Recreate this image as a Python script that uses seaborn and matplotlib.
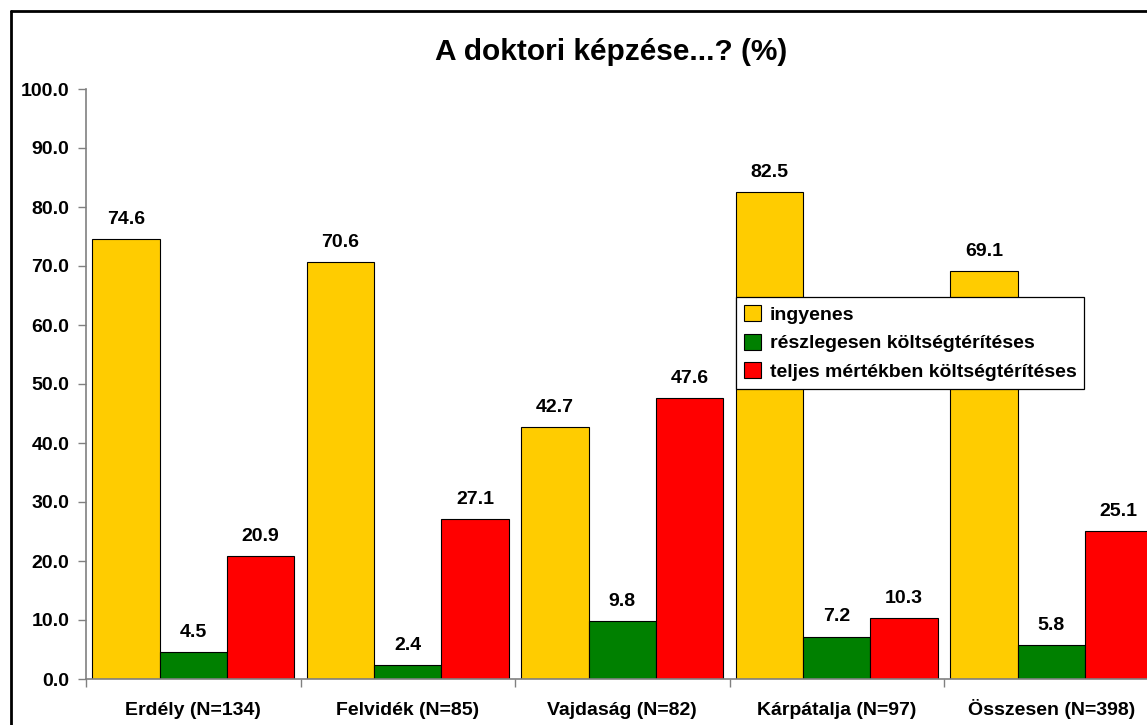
import matplotlib
matplotlib.use("Agg")
import matplotlib.pyplot as plt
import seaborn as sns
import pandas as pd
from matplotlib.lines import Line2D

regions = ["Erdély (N=134)", "Felvidék (N=85)", "Vajdaság (N=82)",
           "Kárpátalja (N=97)", "Összesen (N=398)"]
series = ["ingyenes", "részlegesen költségtérítéses",
          "teljes mértékben költségtérítéses"]
ingyenes = [74.6, 70.6, 42.7, 82.5, 69.1]
reszleges = [4.5, 2.4, 9.8, 7.2, 5.8]
teljes = [20.9, 27.1, 47.6, 10.3, 25.1]
colors = ["#FFCC00", "#008000", "#FF0000"]

df = pd.DataFrame({
    "region": regions * 3,
    "series": [series[0]] * 5 + [series[1]] * 5 + [series[2]] * 5,
    "value": ingyenes + reszleges + teljes,
})

sns.set_style("white")
plt.rcParams["font.family"] = ["Liberation Sans", "DejaVu Sans"]
plt.rcParams["font.weight"] = "bold"
plt.rcParams["text.color"] = "black"
plt.rcParams["xtick.color"] = "black"
plt.rcParams["ytick.color"] = "black"
plt.rcParams["xtick.labelcolor"] = "black"
plt.rcParams["ytick.labelcolor"] = "black"

fs = 14

fig = plt.figure(figsize=(11.47, 7.25), dpi=100)
ax = fig.add_axes([86 / 1147, 46 / 725, 1072.5 / 1147, 590 / 725])

sns.barplot(data=df, x="region", y="value", hue="series", hue_order=series,
            palette=colors, width=0.94, gap=0, edgecolor="black",
            linewidth=0.8, saturation=1, ax=ax)

for cont in ax.containers:
    ax.bar_label(cont, fmt="%.1f", padding=8, fontsize=fs,
                 fontweight="bold", color="black", clip_on=False)

ax.set_xlim(-0.5, 4.5)
ax.set_ylim(0, 100)
ax.set_yticks(range(0, 101, 10))
ax.set_yticklabels([f"{v:.1f}" for v in range(0, 101, 10)])
ax.set_xlabel("")
ax.set_ylabel("")

ax.set_xticks([i - 0.5 for i in range(6)], minor=True)
ax.tick_params(axis="x", which="major", length=0, pad=26, labelsize=fs)
ax.tick_params(axis="x", which="minor", length=6, width=1, color="#808080",
               direction="out", bottom=True)
ax.tick_params(axis="y", length=6, width=1, color="#808080", direction="out",
               left=True, labelsize=fs, pad=6)
for lab in ax.get_xticklabels():
    lab.set_fontweight("bold")
    lab.set_va("baseline")
for lab in ax.get_yticklabels():
    lab.set_fontweight("bold")

for s in ["top", "right"]:
    ax.spines[s].set_visible(False)
for s in ["left", "bottom"]:
    ax.spines[s].set_color("#808080")
    ax.spines[s].set_linewidth(1.2)

leg = ax.legend(loc="upper left", bbox_to_anchor=(0.606, 0.647),
                borderaxespad=0, frameon=True, fancybox=False, shadow=False,
                framealpha=1, prop={"size": fs, "weight": "bold"},
                handlelength=0.9, handleheight=0.9, handletextpad=0.45,
                labelspacing=0.5, borderpad=0.4)
leg.get_frame().set_edgecolor("black")
leg.get_frame().set_linewidth(0.9)

fig.text(611 / 1147, 1 - 52 / 725, "A doktori képzése...? (%)", ha="center",
         va="center", fontsize=21.5, fontweight="bold", color="black")

# outer chart border (left and top visible)
fig.add_artist(Line2D([10.5 / 1147, 10.5 / 1147], [0, 1 - 11 / 725],
                      transform=fig.transFigure, color="black", lw=2))
fig.add_artist(Line2D([10.5 / 1147, 1], [1 - 11 / 725, 1 - 11 / 725],
                      transform=fig.transFigure, color="black", lw=2))

fig.savefig("out.png", dpi=100)
